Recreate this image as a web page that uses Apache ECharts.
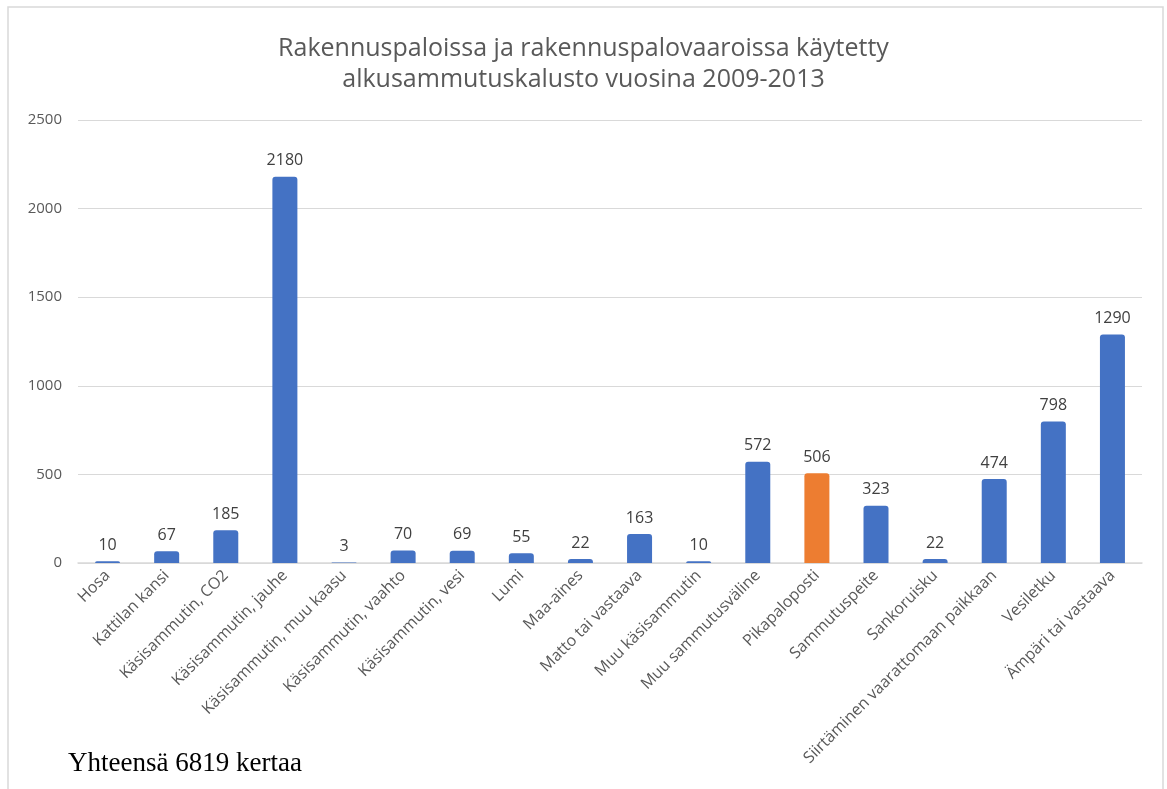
<!DOCTYPE html>
<html>
<head>
<meta charset="utf-8">
<script src="https://cdn.jsdelivr.net/npm/echarts@6/dist/echarts.min.js"></script>
<style>
  html, body { margin: 0; padding: 0; background: #ffffff; }
  #chart { width: 1167px; height: 789px; }
</style>
</head>
<body>
<div id="chart"></div>
<script>
const categories = [
  'Hosa', 'Kattilan kansi', 'Käsisammutin, CO2', 'Käsisammutin, jauhe',
  'Käsisammutin, muu kaasu', 'Käsisammutin, vaahto', 'Käsisammutin, vesi',
  'Lumi', 'Maa-aines', 'Matto tai vastaava', 'Muu käsisammutin',
  'Muu sammutusväline', 'Pikapaloposti', 'Sammutuspeite', 'Sankoruisku',
  'Siirtäminen vaarattomaan paikkaan', 'Vesiletku', 'Ämpäri tai vastaava'
];
const counts = [10, 67, 185, 2180, 3, 70, 69, 55, 22, 163, 10, 572, 506, 323, 22, 474, 798, 1290];
const highlighted = 'Pikapaloposti';
const yTicks = [0, 500, 1000, 1500, 2000, 2500];

const titleLines = ['Rakennuspaloissa ja rakennuspalovaaroissa käytetty', 'alkusammutuskalusto vuosina 2009-2013'];
const footnote = 'Yhteensä 6819 kertaa';

const BLUE = '#4472C4';
const ORANGE = '#ED7D31';
const GREY_TEXT = '#595959';

const chart = echarts.init(document.getElementById('chart'), null, { renderer: 'canvas' });

chart.setOption({
  animation: false,
  backgroundColor: '#ffffff',
  title: {
    text: titleLines.join('\n'),
    left: 'center',
    top: 28,
    textStyle: {
      fontFamily: 'Open Sans',
      fontWeight: 'normal',
      fontSize: 25,
      color: GREY_TEXT,
      lineHeight: 31
    }
  },
  graphic: [
    {
      type: 'polyline',
      shape: { points: [[8, 789], [8, 7], [1163, 7], [1163, 789]] },
      style: { stroke: '#d9d9d9', lineWidth: 1.5, fill: null },
      silent: true
    },
    {
      type: 'text',
      x: 68,
      y: 764,
      style: {
        text: footnote,
        font: '27px "Liberation Serif"',
        fill: '#000000',
        verticalAlign: 'middle'
      }
    }
  ],
  grid: { left: 78, right: 25, top: 120, bottom: 226, containLabel: false },
  xAxis: {
    type: 'category',
    data: categories,
    axisLine: { show: true, lineStyle: { color: '#d9d9d9', width: 1.5 } },
    axisTick: { show: false },
    axisLabel: {
      interval: 0,
      rotate: 45,
      margin: 10,
      fontFamily: 'Open Sans',
      fontSize: 16,
      color: GREY_TEXT
    }
  },
  yAxis: {
    type: 'value',
    min: yTicks[0],
    max: yTicks[yTicks.length - 1],
    interval: yTicks[1] - yTicks[0],
    axisLine: { show: false },
    axisTick: { show: false },
    splitLine: { lineStyle: { color: '#d9d9d9', width: 1.2 } },
    axisLabel: {
      margin: 16,
      fontFamily: 'Open Sans',
      fontSize: 15,
      color: GREY_TEXT,
      formatter: v => String(v)
    }
  },
  series: [{
    type: 'bar',
    data: counts.map((v, i) => ({
      value: v,
      itemStyle: { color: categories[i] === highlighted ? ORANGE : BLUE }
    })),
    barWidth: 25,
    itemStyle: { borderRadius: [3, 3, 0, 0] },
    label: {
      show: true,
      position: 'top',
      distance: 8,
      fontFamily: 'Open Sans',
      fontSize: 16,
      color: '#404040'
    }
  }]
});
</script>
</body>
</html>
